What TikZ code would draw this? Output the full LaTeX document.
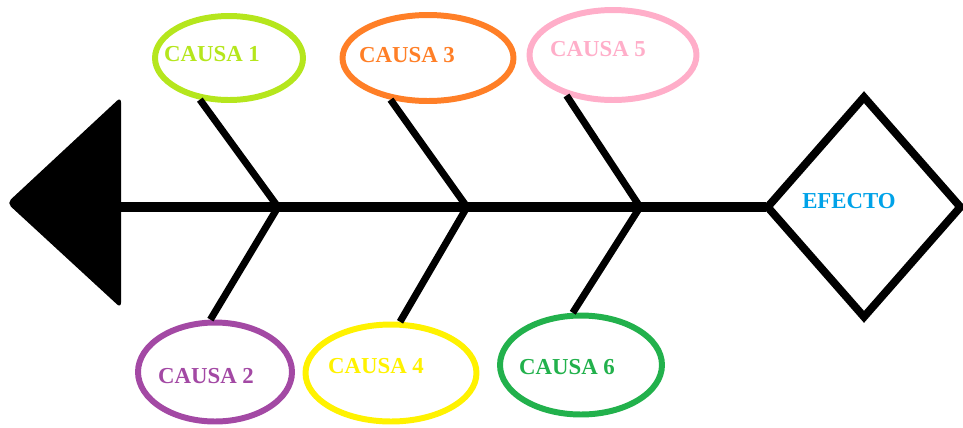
\documentclass[tikz,border=0pt]{standalone}
\usepackage{fontspec}
\setmainfont{Liberation Serif}
\usetikzlibrary{shapes.geometric}
\definecolor{causaLima}{RGB}{181,230,29}
\definecolor{causaNaranja}{RGB}{255,127,39}
\definecolor{causaRosa}{RGB}{255,174,201}
\definecolor{causaMorado}{RGB}{163,73,164}
\definecolor{causaAmarillo}{RGB}{255,242,0}
\definecolor{causaVerde}{RGB}{34,177,76}
\definecolor{efectoAzul}{RGB}{0,162,232}
\tikzset{
    spine/.style={line width=6.2pt},
    bone/.style={line width=4pt},
    causa/.style={draw, ellipse, line width=3.4pt, inner sep=0pt},
    causaTxt/.style={font=\fontsize{13}{15}\selectfont\bfseries, inner sep=0pt},
    efectoBox/.style={draw, diamond, line width=4.5pt, inner sep=0pt,
                      minimum width=3.92cm, minimum height=4.46cm},
}

\begin{document}
\begin{tikzpicture}[x=0.02cm, y=-0.02cm]
    \useasboundingbox (0,0) rectangle (963,427);

    % Head (arrow) and effect
    \fill[rounded corners=3pt] (7,203) -- (121,97) -- (121,308) -- cycle;
    \coordinate (head) at (120,207);
    \node[efectoBox] (efecto) at (864,207) {};
    \node[causaTxt, text=efectoAzul] (efectoTxt) at (849,201) {EFECTO};
    \draw[spine, shorten <=-2pt] (efecto.west) -- (head);

    % Causes above
    \node[causa, draw=causaLima, minimum width=2.96cm, minimum height=1.68cm] (c1) at (229,58) {};
    \node[causaTxt, text=causaLima] (t1) at (212,54) {CAUSA 1};
    \node[causa, draw=causaNaranja, minimum width=3.42cm, minimum height=1.72cm] (c3) at (428,58) {};
    \node[causaTxt, text=causaNaranja] (t3) at (407,55) {CAUSA 3};
    \node[causa, draw=causaRosa, minimum width=3.34cm, minimum height=1.8cm] (c5) at (613,55) {};
    \node[causaTxt, text=causaRosa] (t5) at (598,49) {CAUSA 5};

    % Causes below
    \node[causa, draw=causaMorado, minimum width=3.08cm, minimum height=1.98cm] (c2) at (215,372) {};
    \node[causaTxt, text=causaMorado] (t2) at (206,376) {CAUSA 2};
    \node[causa, draw=causaAmarillo, minimum width=3.42cm, minimum height=1.94cm] (c4) at (391,373) {};
    \node[causaTxt, text=causaAmarillo] (t4) at (376,366) {CAUSA 4};
    \node[causa, draw=causaVerde, minimum width=3.24cm, minimum height=1.98cm] (c6) at (581,365) {};
    \node[causaTxt, text=causaVerde] (t6) at (567,367) {CAUSA 6};

    % Bones
    \coordinate (j1) at (278,207);
    \coordinate (j2) at (467,207);
    \coordinate (j3) at (640,207);
    \draw[bone] (c1.235) -- (j1) -- (c2.95);
    \draw[bone] (c3.228) -- (j2) -- (c4.80);
    \draw[bone] (c5.221) -- (j3) -- (c6.99);
\end{tikzpicture}
\end{document}
